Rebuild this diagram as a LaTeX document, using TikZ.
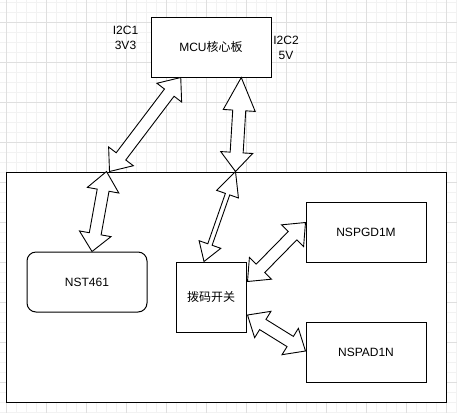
\documentclass[tikz,border=0pt]{standalone}
\usepackage{fontspec}
\setmainfont{Liberation Sans}
\newfontfamily\cjk{Noto Sans CJK SC}
\usetikzlibrary{calc}
\newcommand\flexarr[6]{%
  \path ($(#1)!#3!(#2)$) coordinate (fa1) ($(#2)!#4!(#1)$) coordinate (fb1);
  \draw[flexarrow] (#1) -- ($(fa1)!#6!90:(#2)$) -- ($(fa1)!#5!90:(#2)$)
    -- ($(fb1)!#5!-90:(#1)$) -- ($(fb1)!#6!-90:(#1)$) -- (#2)
    -- ($(fb1)!#6!90:(#1)$) -- ($(fb1)!#5!90:(#1)$)
    -- ($(fa1)!#5!-90:(#2)$) -- ($(fa1)!#6!-90:(#2)$) -- cycle;}
\begin{document}
\begin{tikzpicture}[x=1pt,y=-1pt,
  box/.style={draw=black, line width=1pt, fill=white, inner sep=0pt,
    font=\fontsize{12}{15}\selectfont, align=center},
  lbl/.style={inner sep=0pt, font=\fontsize{12}{15}\selectfont, align=center},
  flexarrow/.style={draw=black, line width=0.9pt, fill=white, line join=miter},
  minorgrid/.style={draw=gray!10, line width=0.8pt},
  majorgrid/.style={draw=gray!25, line width=0.8pt}]
\useasboundingbox (0,0) rectangle (457,413);
\fill[white] (0,0) rectangle (457,413);
% grid
\begin{scope}
\clip (0,0) rectangle (457,413);
\foreach \x in {-4,6,...,456} \draw[minorgrid] (\x,0) -- (\x,413);
\foreach \y in {2,12,...,412} \draw[minorgrid] (0,\y) -- (457,\y);
\foreach \x in {6,46,...,456} \draw[majorgrid] (\x,0) -- (\x,413);
\foreach \y in {22,62,...,412} \draw[majorgrid] (0,\y) -- (457,\y);
\end{scope}
% nodes
\node[box, minimum width=440pt, minimum height=230pt] (board) at (226,287) {};
\node[box, minimum width=120pt, minimum height=60pt] (mcu) at (211,47) {MCU{\cjk 核心板}};
\node[box, rounded corners=9pt, minimum width=120pt, minimum height=60pt] (nst) at (87,282) {NST461};
\node[box, minimum width=70pt, minimum height=70pt] (sw) at (211,297) {\cjk 拨码开关};
\node[box, minimum width=120pt, minimum height=60pt] (pgd) at (366,232) {NSPGD1M};
\node[box, minimum width=120pt, minimum height=60pt] (pad) at (366,352) {NSPAD1N};
\node[lbl] (l1) at (125.5,37.5) {I2C1\\3V3};
\node[lbl] (l2) at (286,48) {I2C2\\5V};
% arrow end points on node borders
\coordinate (a1s) at ($(mcu.south west)!0.25!(mcu.south east)$);
\coordinate (a1e) at ($(board.north west)+(104,0)$);
\coordinate (a2s) at ($(mcu.south west)!0.75!(mcu.south east)$);
\coordinate (a2e) at ($(board.north west)+(230,0)$);
\coordinate (a3s) at ($(board.north west)+(101,0)$);
\coordinate (a3e) at ($(nst.north)+(5,0)$);
\coordinate (a4e) at ($(sw.north)+(-7,0)$);
\coordinate (a5s) at ($(sw.east)+(1,-15.5)$);
\coordinate (a5e) at ($(pgd.west)+(0,-9.5)$);
\coordinate (a6s) at ($(sw.east)+(1,18)$);
\coordinate (a6e) at ($(pad.west)+(0,-1)$);
% arrows
\flexarr{a1s}{a1e}{19pt}{19pt}{6pt}{15.5pt}
\flexarr{a2s}{a2e}{33pt}{19pt}{6.5pt}{16pt}
\flexarr{a3s}{a3e}{19pt}{18pt}{6pt}{16pt}
\flexarr{a2e}{a4e}{24pt}{18pt}{2.3pt}{11.5pt}
\flexarr{a5s}{a5e}{18.5pt}{18.5pt}{6pt}{15.5pt}
\flexarr{a6s}{a6e}{18pt}{18pt}{6pt}{15.5pt}
\end{tikzpicture}
\end{document}
